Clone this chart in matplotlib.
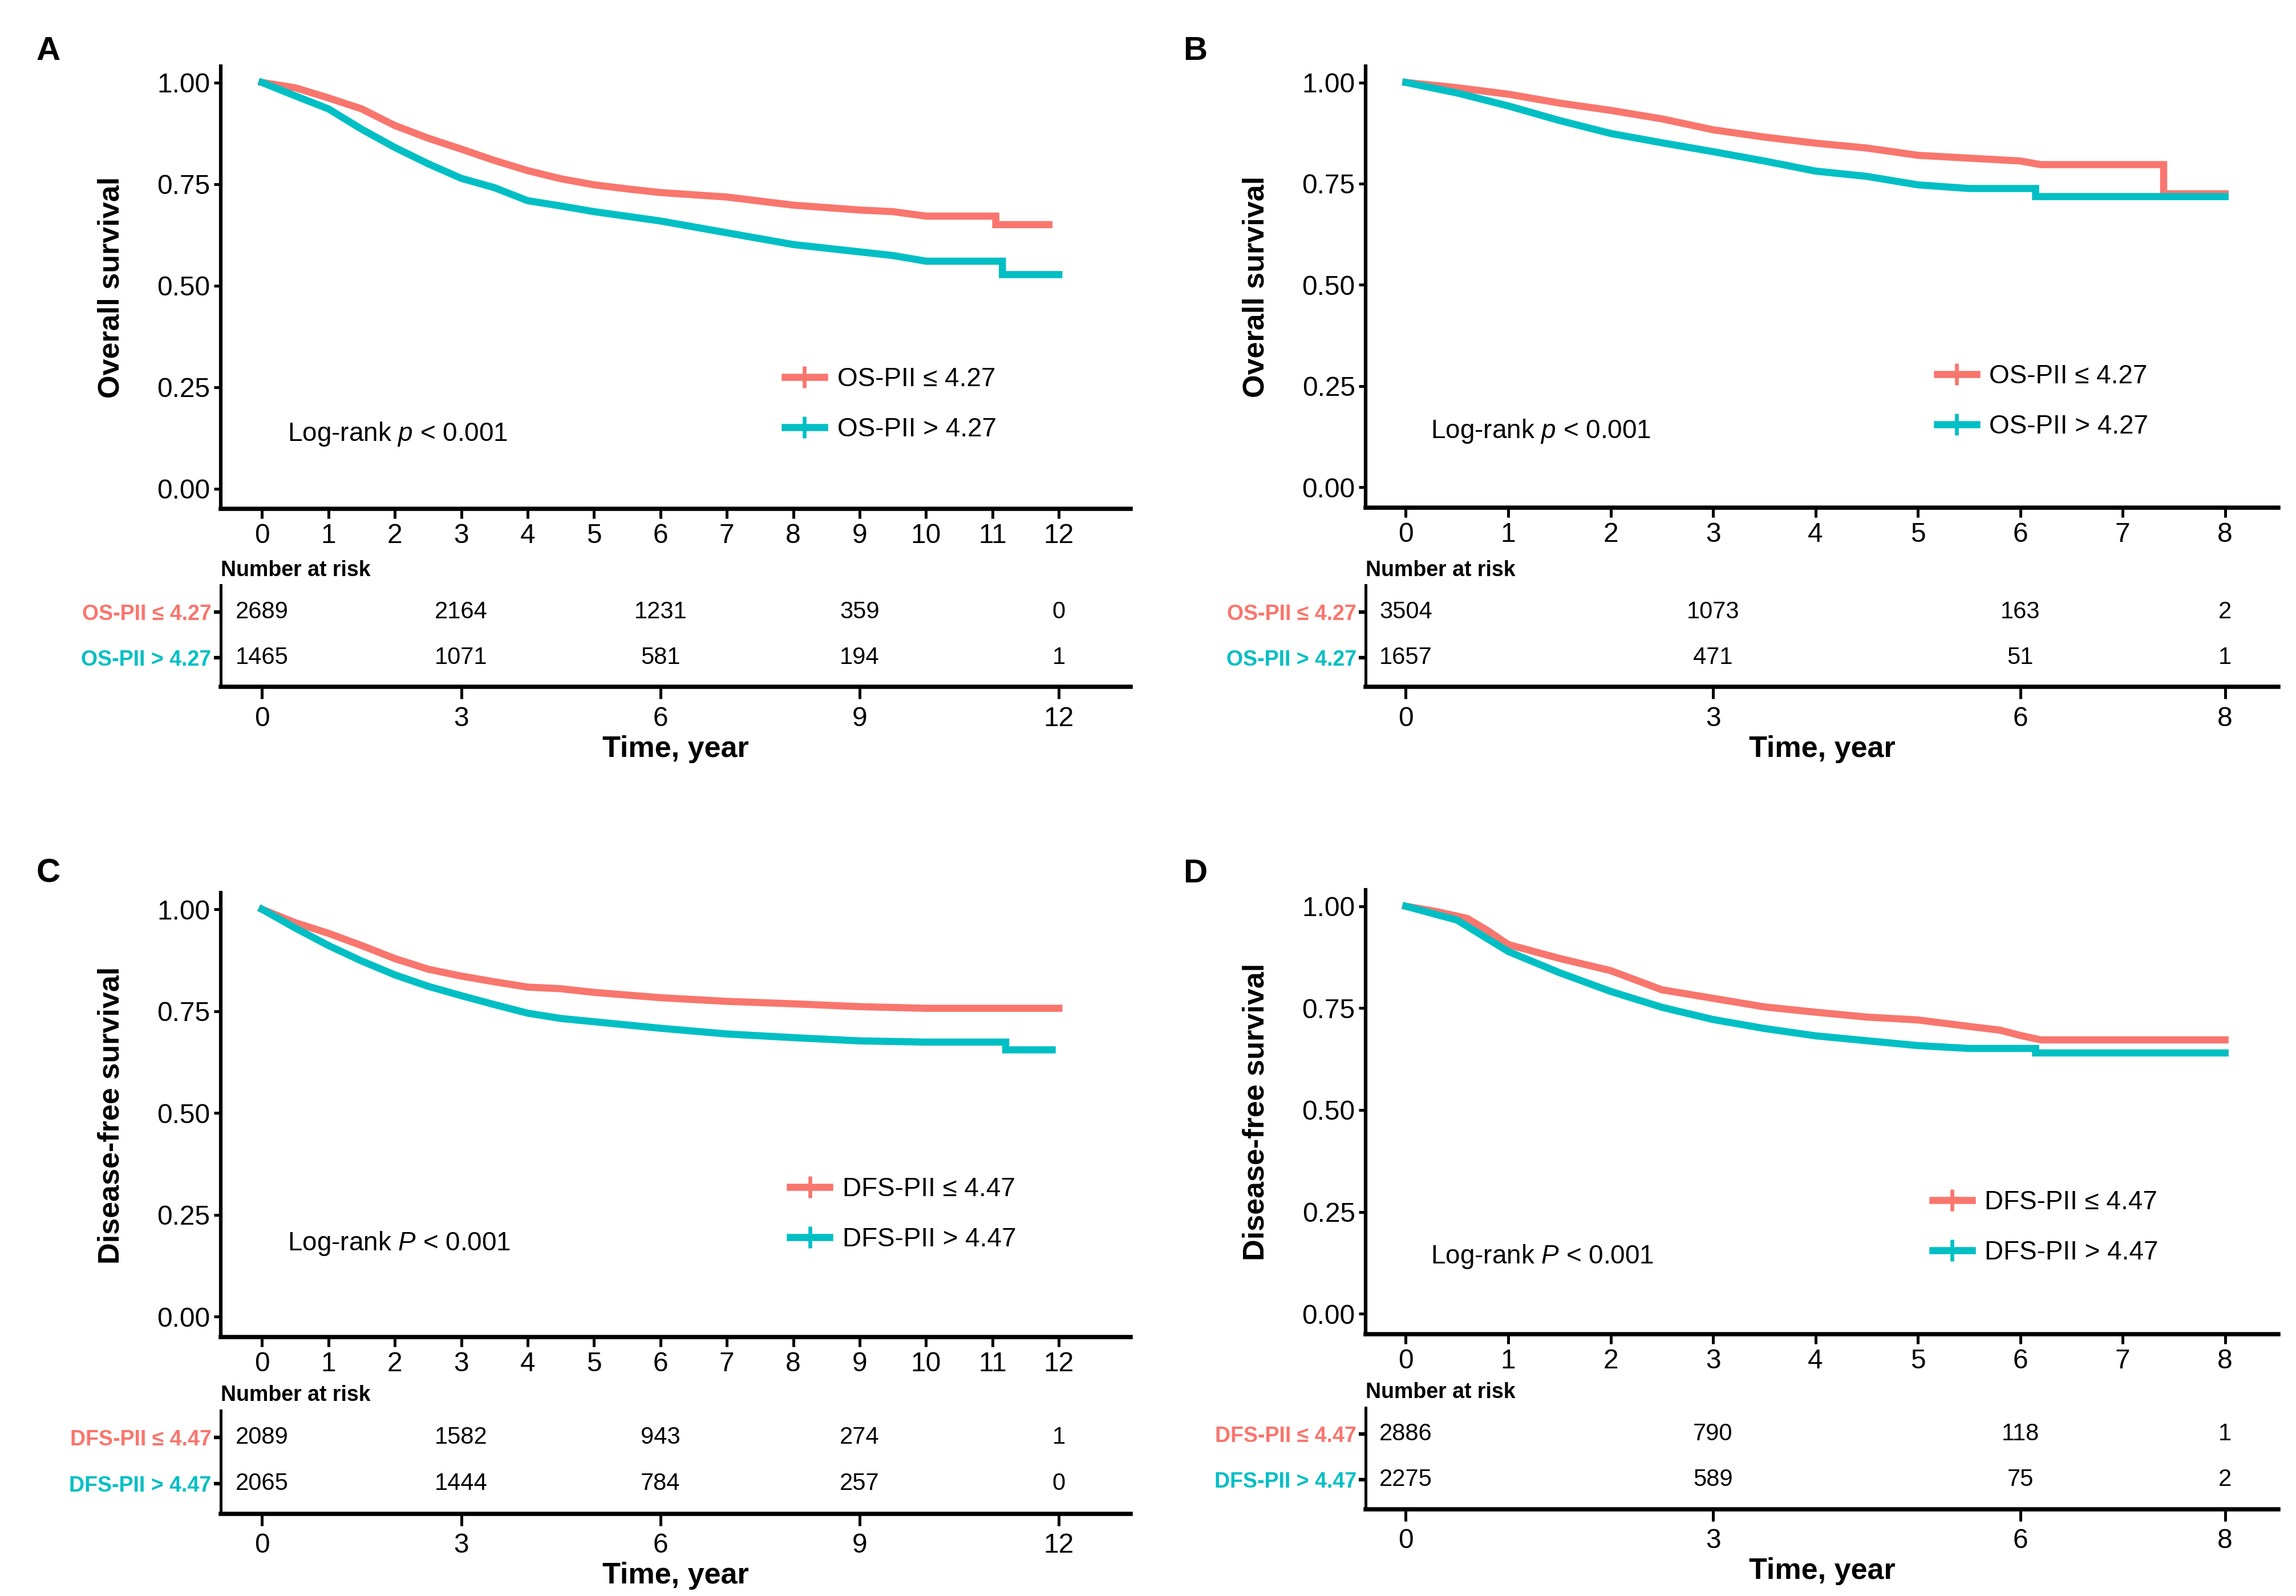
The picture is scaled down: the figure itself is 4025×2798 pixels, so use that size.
import numpy as np
import matplotlib.pyplot as plt
from matplotlib.lines import Line2D

plt.rcParams['font.family'] = ['Liberation Sans', 'DejaVu Sans']
plt.rcParams['mathtext.fontset'] = 'custom'
plt.rcParams['mathtext.rm'] = 'Liberation Sans'
plt.rcParams['mathtext.it'] = 'Liberation Sans:italic'

ROJO = '#F8766D'
VERDE = '#00BFC4'

# Curvas de supervivencia (tiempo en años, supervivencia)
# Panel A: OS, corte 4.27 (12 años)
a_t_bajo = [0, 0.5, 1, 1.5, 2, 2.5, 3, 3.5, 4, 4.5, 5, 5.5, 6, 7, 8, 9, 9.5, 10, 11.05, 11.05, 11.85]
a_s_bajo = [1.0, 0.987, 0.962, 0.935, 0.894, 0.863, 0.836, 0.808, 0.783, 0.763, 0.748, 0.738, 0.729,
            0.718, 0.698, 0.686, 0.682, 0.671, 0.671, 0.650, 0.650]
a_t_alto = [0, 0.5, 1, 1.5, 2, 2.5, 3, 3.5, 4, 4.5, 5, 6, 7, 8, 9, 9.5, 10, 11.15, 11.15, 12]
a_s_alto = [1.0, 0.967, 0.935, 0.885, 0.840, 0.800, 0.764, 0.741, 0.709, 0.696, 0.682, 0.659, 0.630,
            0.601, 0.583, 0.574, 0.560, 0.560, 0.527, 0.527]

# Panel B: OS, corte 4.27 (8 años)
b_t_bajo = [0, 0.5, 1, 1.5, 2, 2.5, 3, 3.5, 4, 4.5, 5, 5.5, 6, 6.2, 7.4, 7.4, 8]
b_s_bajo = [1.0, 0.987, 0.971, 0.949, 0.931, 0.910, 0.883, 0.865, 0.850, 0.838, 0.820, 0.813, 0.806,
            0.797, 0.797, 0.725, 0.725]
b_t_alto = [0, 0.5, 1, 1.5, 2, 2.5, 3, 3.5, 4, 4.5, 5, 5.5, 6.15, 6.15, 8]
b_s_alto = [1.0, 0.974, 0.942, 0.906, 0.874, 0.851, 0.829, 0.806, 0.781, 0.768, 0.747, 0.738, 0.738,
            0.718, 0.718]

# Panel C: DFS, corte 4.47 (12 años)
c_t_bajo = [0, 0.5, 1, 1.5, 2, 2.5, 3, 3.5, 4, 4.5, 5, 6, 7, 8, 9, 10, 12]
c_s_bajo = [1.0, 0.967, 0.941, 0.911, 0.879, 0.853, 0.836, 0.822, 0.809, 0.805, 0.796, 0.783, 0.774,
            0.768, 0.761, 0.757, 0.757]
c_t_alto = [0, 0.5, 1, 1.5, 2, 2.5, 3, 3.5, 4, 4.5, 5, 6, 7, 8, 9, 10, 11.2, 11.2, 11.9]
c_s_alto = [1.0, 0.954, 0.911, 0.873, 0.839, 0.811, 0.788, 0.766, 0.745, 0.732, 0.724, 0.708, 0.694,
            0.685, 0.677, 0.674, 0.674, 0.655, 0.655]

# Panel D: DFS, corte 4.47 (8 años)
d_t_bajo = [0, 0.3, 0.6, 0.8, 1, 1.5, 2, 2.5, 3, 3.5, 4, 4.5, 5, 5.5, 5.8, 6, 6.2, 8]
d_s_bajo = [1.0, 0.987, 0.970, 0.940, 0.906, 0.872, 0.842, 0.795, 0.774, 0.753, 0.740, 0.728, 0.721,
            0.705, 0.696, 0.683, 0.672, 0.672]
d_t_alto = [0, 0.5, 1, 1.5, 2, 2.5, 3, 3.5, 4, 4.5, 5, 5.5, 6.15, 6.15, 8]
d_s_alto = [1.0, 0.966, 0.889, 0.837, 0.791, 0.752, 0.722, 0.700, 0.682, 0.670, 0.658, 0.651, 0.651,
            0.640, 0.640]

# Tablas de número en riesgo
a_riesgo_t = [0, 3, 6, 9, 12]
a_riesgo_bajo = [2689, 2164, 1231, 359, 0]
a_riesgo_alto = [1465, 1071, 581, 194, 1]
b_riesgo_t = [0, 3, 6, 8]
b_riesgo_bajo = [3504, 1073, 163, 2]
b_riesgo_alto = [1657, 471, 51, 1]
c_riesgo_t = [0, 3, 6, 9, 12]
c_riesgo_bajo = [2089, 1582, 943, 274, 1]
c_riesgo_alto = [2065, 1444, 784, 257, 0]
d_riesgo_t = [0, 3, 6, 8]
d_riesgo_bajo = [2886, 790, 118, 1]
d_riesgo_alto = [2275, 589, 75, 2]

os_bajo, os_alto = 'OS-PII \u2264 4.27', 'OS-PII > 4.27'
dfs_bajo, dfs_alto = 'DFS-PII \u2264 4.47', 'DFS-PII > 4.47'

fig = plt.figure(figsize=(4025 / 300, 2798 / 300), dpi=300)


def dibujar_panel(pos_main, pos_risk, letra, pos_letra, tb, sb, ta, sa, rt, rb, ra,
                  lab_b, lab_a, ylabel, tmax, xlim, pval, pos_p, pos_leg):
    ax = fig.add_axes(pos_main)
    ax.plot(tb, sb, color=ROJO, lw=3.0, solid_joinstyle='miter')
    ax.plot(ta, sa, color=VERDE, lw=3.0, solid_joinstyle='miter')
    ax.set_xlim(*xlim)
    ax.set_ylim(-0.05, 1.04)
    ax.set_xticks(np.arange(0, tmax + 1, 1))
    ax.set_yticks([0, 0.25, 0.5, 0.75, 1.0])
    ax.set_yticklabels(['0.00', '0.25', '0.50', '0.75', '1.00'])
    ax.tick_params(axis='x', labelsize=11.5, length=4, width=1.2, pad=2)
    ax.tick_params(axis='y', labelsize=11.5, length=3, width=1.2, pad=1.5)
    for s in ['top', 'right']:
        ax.spines[s].set_visible(False)
    ax.spines['left'].set_linewidth(1.5)
    ax.spines['bottom'].set_linewidth(1.8)
    ax.set_ylabel(ylabel, fontsize=12.5, fontweight='bold')
    ax.yaxis.set_label_coords(-0.105, 0.5)

    ax.text(pos_p[0], pos_p[1], 'Log-rank $\\it{' + pval + '}$ < 0.001', fontsize=11,
            ha='left', va='center')
    handles = [Line2D([], [], color=ROJO, lw=3.0, marker='+', markersize=9, mew=1.6),
               Line2D([], [], color=VERDE, lw=3.0, marker='+', markersize=9, mew=1.6)]
    ax.legend(handles, [lab_b, lab_a], loc='center left', bbox_to_anchor=pos_leg,
              frameon=False, fontsize=11, handlelength=1.5, handletextpad=0.5,
              labelspacing=0.95, borderaxespad=0, borderpad=0)

    fig.text(pos_letra[0], pos_letra[1], letra, fontsize=14, fontweight='bold',
             ha='center', va='center')

    # tabla de número en riesgo
    axr = fig.add_axes(pos_risk)
    axr.set_xlim(*xlim)
    axr.set_ylim(-0.644, 1.578)
    for t, n in zip(rt, rb):
        axr.text(t, 1, str(n), ha='center', va='center', fontsize=10)
    for t, n in zip(rt, ra):
        axr.text(t, 0, str(n), ha='center', va='center', fontsize=10)
    axr.set_xticks(rt)
    axr.set_yticks([1, 0])
    axr.set_yticklabels([lab_b, lab_a], fontsize=9, fontweight='bold')
    axr.get_yticklabels()[0].set_color(ROJO)
    axr.get_yticklabels()[1].set_color(VERDE)
    axr.tick_params(axis='x', labelsize=11.5, length=5, width=1.2, pad=3)
    axr.tick_params(axis='y', length=3, width=1.5, pad=1)
    for s in ['top', 'right']:
        axr.spines[s].set_visible(False)
    axr.spines['left'].set_linewidth(1.2)
    axr.spines['bottom'].set_linewidth(1.8)
    axr.set_title('Number at risk', loc='left', fontsize=9, fontweight='bold', pad=4)
    axr.set_xlabel('Time, year', fontsize=12.5, fontweight='bold', labelpad=1.5)


dibujar_panel([0.0962, 0.6811, 0.3962, 0.2774], [0.0962, 0.5696, 0.3962, 0.0636], 'A', (0.021, 0.968),
              a_t_bajo, a_s_bajo, a_t_alto, a_s_alto, a_riesgo_t, a_riesgo_bajo, a_riesgo_alto,
              os_bajo, os_alto, 'Overall survival', 12, (-0.62, 13.08), 'p', (0.38, 0.135), (0.62, 0.236))

dibujar_panel([0.5949, 0.6820, 0.3974, 0.2765], [0.5949, 0.5696, 0.3974, 0.0636], 'B', (0.5205, 0.968),
              b_t_bajo, b_s_bajo, b_t_alto, b_s_alto, b_riesgo_t, b_riesgo_bajo, b_riesgo_alto,
              os_bajo, os_alto, 'Overall survival', 8, (-0.39, 8.52), 'p', (0.24, 0.139), (0.626, 0.24))

dibujar_panel([0.0962, 0.1622, 0.3962, 0.2783], [0.0962, 0.0516, 0.3962, 0.0645], 'C', (0.021, 0.4525),
              c_t_bajo, c_s_bajo, c_t_alto, c_s_alto, c_riesgo_t, c_riesgo_bajo, c_riesgo_alto,
              dfs_bajo, dfs_alto, 'Disease-free survival', 12, (-0.62, 13.08), 'P', (0.38, 0.18), (0.626, 0.276))

dibujar_panel([0.5949, 0.1641, 0.3974, 0.2783], [0.5949, 0.0544, 0.3974, 0.0636], 'D', (0.5205, 0.4525),
              d_t_bajo, d_s_bajo, d_t_alto, d_s_alto, d_riesgo_t, d_riesgo_bajo, d_riesgo_alto,
              dfs_bajo, dfs_alto, 'Disease-free survival', 8, (-0.39, 8.52), 'P', (0.24, 0.14), (0.621, 0.24))

plt.savefig('out.png', dpi=300, facecolor='white')
